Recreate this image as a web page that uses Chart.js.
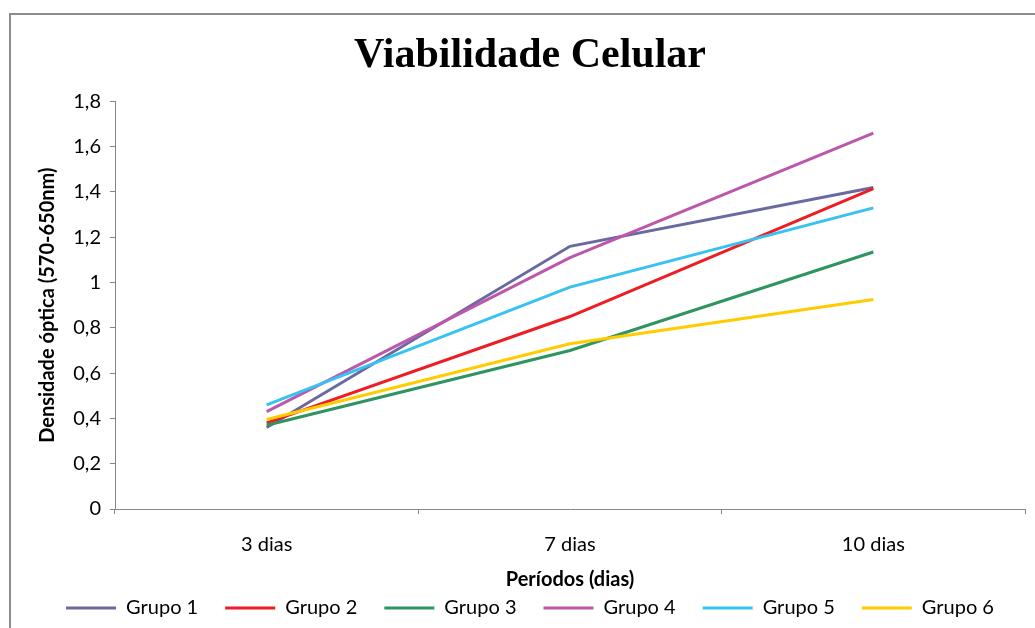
<!DOCTYPE html>
<html>
<head>
<meta charset="utf-8">
<script src="https://cdn.jsdelivr.net/npm/chart.js@4"></script>
<style>
  body { margin: 0; background: #fff; }
  #frame { position: absolute; left: 9px; top: 13px; width: 1100px; height: 700px;
           border-left: 2px solid #8c8c8c; border-top: 2px solid #8c8c8c; }
  #wrap { position: absolute; left: 0; top: 0; width: 1035px; height: 628px; }
</style>
</head>
<body>
<div id="frame"></div>
<div id="wrap"><canvas id="graphic"></canvas></div>
<script>
const categories = ['3 dias', '7 dias', '10 dias']
const grupo1 = [0.36, 1.16, 1.42]
const grupo2 = [0.38, 0.85, 1.415]
const grupo3 = [0.37, 0.70, 1.135]
const grupo4 = [0.43, 1.11, 1.66]
const grupo5 = [0.46, 0.98, 1.33]
const grupo6 = [0.395, 0.73, 0.925]
const seriesNames = ['Grupo 1', 'Grupo 2', 'Grupo 3', 'Grupo 4', 'Grupo 5', 'Grupo 6']
const seriesColors = ['#6A69A0', '#EE1D24', '#2E9460', '#BC58AC', '#36C3F1', '#FFCC00']

const fontFamily = 'Lato, "Open Sans", sans-serif'

const renderChart = () =>{
  const ctx = document.querySelector('#graphic').getContext('2d')
  const values = [grupo1, grupo2, grupo3, grupo4, grupo5, grupo6]

  Chart.defaults.color = '#000'
  Chart.defaults.font.family = fontFamily

  new Chart(ctx, {
    type: 'line',
    data: {
      labels: categories,
      datasets: values.map((data, i) => ({
        label: seriesNames[i],
        data: data,
        borderColor: seriesColors[i],
        backgroundColor: seriesColors[i],
        borderWidth: 3,
        pointRadius: 0,
        tension: 0,
        order: values.length - i
      }))
    },
    options: {
      responsive: true,
      maintainAspectRatio: false,
      animation: false,
      layout: { padding: { left: 35, right: 10, top: 0, bottom: 0 } },
      plugins: {
        tooltip: { enabled: false },
        title: {
          display: true,
          text: 'Viabilidade Celular',
          color: '#000',
          font: { family: '"Liberation Serif", "Times New Roman", serif', size: 42, weight: 'bold' },
          padding: { top: 31, bottom: 20 }
        },
        legend: {
          position: 'bottom',
          labels: {
            usePointStyle: true,
            pointStyle: 'line',
            pointStyleWidth: 50,
            boxHeight: 20,
            padding: 27,
            font: { size: 20 },
            sort: (a, b) => a.datasetIndex - b.datasetIndex
          }
        }
      },
      scales: {
        x: {
          offset: true,
          border: { color: '#868686' },
          grid: { offset: true, drawOnChartArea: false, drawTicks: true, tickLength: 5, color: '#868686' },
          ticks: { padding: 19, font: { size: 20 } },
          title: {
            display: true,
            text: 'Períodos (dias)',
            font: { size: 20, weight: 'bold' },
            padding: { top: 0, bottom: -21 }
          },
          afterFit: (scale) => { scale.height = 62 }
        },
        y: {
          min: 0,
          max: 1.8,
          border: { color: '#868686' },
          grid: { drawOnChartArea: false, drawTicks: true, tickLength: 5, color: '#868686' },
          ticks: {
            stepSize: 0.2,
            padding: 9,
            font: { size: 20 },
            callback: (value) => Number(value.toFixed(1)).toString().replace('.', ',')
          },
          title: {
            display: true,
            text: 'Densidade óptica (570-650nm)',
            font: { size: 20, weight: 'bold' },
            padding: { top: 1, bottom: 13 }
          },
          afterFit: (scale) => { scale.width = 80 }
        }
      }
    }
  })
}

renderChart()
</script>
</body>
</html>
